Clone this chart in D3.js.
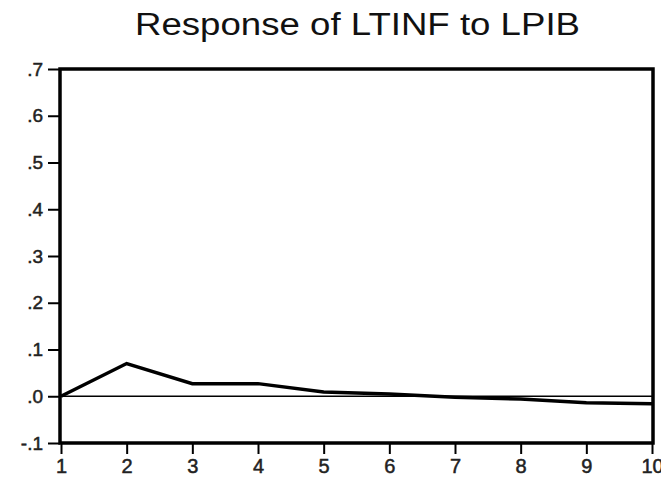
<!DOCTYPE html>
<html>
<head>
<meta charset="utf-8">
<script src="https://cdn.jsdelivr.net/npm/d3@7"></script>
<style>
  body { margin: 0; background: #fff; }
  svg { display: block; font-family: "Liberation Sans", Arial, sans-serif; }
</style>
</head>
<body>
<svg id="chart" width="661" height="480"></svg>
<script>
// impulse response, periods 1..10
const periods = [1, 2, 3, 4, 5, 6, 7, 8, 9, 10]
const response = [0.0, 0.070, 0.027, 0.027, 0.009, 0.005, -0.002, -0.006, -0.014, -0.016]
const yTicks = [-0.1, 0.0, 0.1, 0.2, 0.3, 0.4, 0.5, 0.6, 0.7]
const title = 'Response of LTINF to LPIB'

const svg = d3.select('#chart')
const plotLeft = 60, plotRight = 653, plotTop = 69, plotBottom = 443
const font = '"Liberation Sans", Arial, sans-serif'

const x = d3.scaleLinear().domain([1, 10]).range([plotLeft + 1, plotRight - 1])
const y = d3.scaleLinear().domain([-0.1, 0.7]).range([plotBottom, plotTop])

// EViews style labels: .1, -.1
const fmt = d => (d < 0 ? '-' : '') + Math.abs(d).toFixed(1).replace(/^0/, '')

// title
svg.append('text')
    .attr('x', 135)
    .attr('y', 35)
    .style('font-size', '31px')
    .attr('fill', '#111')
    .attr('textLength', 445)
    .attr('lengthAdjust', 'spacingAndGlyphs')
    .text(title)

// y axis
const yAxis = d3.axisLeft(y).tickValues(yTicks).tickFormat(fmt).tickSize(12).tickPadding(5)
const gy = svg.append('g').attr('transform', `translate(${plotLeft},0)`).call(yAxis)
gy.select('.domain').remove()
gy.selectAll('.tick line').attr('stroke', '#000').attr('stroke-width', 2)
gy.selectAll('.tick text')
    .style('font-size', '19px').style('font-family', font)
    .attr('fill', '#222').attr('stroke', '#222').attr('stroke-width', 0.5)

// x axis
const xAxis = d3.axisBottom(x).tickValues(periods).tickFormat(d3.format('d')).tickSize(11).tickPadding(5)
const gx = svg.append('g').attr('transform', `translate(0,${plotBottom})`).call(xAxis)
gx.select('.domain').remove()
gx.selectAll('.tick line').attr('stroke', '#000').attr('stroke-width', 2)
gx.selectAll('.tick text')
    .style('font-size', '20px').style('font-family', font)
    .attr('fill', '#222').attr('stroke', '#222').attr('stroke-width', 0.5)

// zero line
svg.append('line')
    .attr('x1', plotLeft).attr('x2', plotRight)
    .attr('y1', y(0)).attr('y2', y(0))
    .attr('stroke', '#000').attr('stroke-width', 1.3)

// response line
const line = d3.line().x((d, i) => x(periods[i])).y(d => y(d))
svg.append('path')
    .datum(response)
    .attr('d', line)
    .attr('fill', 'none')
    .attr('stroke', '#000')
    .attr('stroke-width', 3.5)

// frame
svg.append('rect')
    .attr('x', plotLeft).attr('y', plotTop)
    .attr('width', plotRight - plotLeft).attr('height', plotBottom - plotTop)
    .attr('fill', 'none')
    .attr('stroke', '#000')
    .attr('stroke-width', 3.5)
</script>
</body>
</html>
